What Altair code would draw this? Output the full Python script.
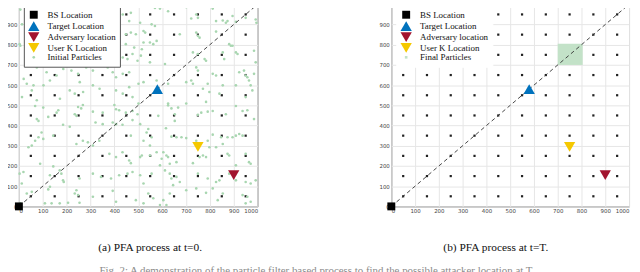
import altair as alt
import pandas as pd

tick_values = [0, 100, 200, 300, 400, 500, 600, 700, 800, 900, 1000]
grid_centers = [50, 150, 250, 350, 450, 550, 650, 750, 850, 950]

marker_names = ["BS Location", "Target Location", "Adversary location", "User K Location"]
marker_x = [0, 580, 900, 750]
marker_y = [0, 580, 155, 295]

diag_x = [0, 1000]
diag_y = [0, 1000]

# initial particles
particle_x = [
    68, 102, 165, 158, 248, 261, 268, 234, 241, 310, 351, 400, 407, 420, 448, 476, 497, 75, 82, 123,
    185, 213, 321, 351, 393, 407, 434, 476, 95, 82, 102, 144, 40, 54, 68, 241, 268, 289, 310, 337,
    469, 379, 407, 462, 469, 434, 89, 144, 19, 3, 171, 178, 185, 188, 130, 254, 310, 344, 386, 420,
    455, 476, 12, 33, 54, 123, 130, 241, 248, 234, 310, 393, 490, 109, 137, 171, 206, 254, 407, 6,
    625, 639, 667, 653, 653, 584, 750, 764, 791, 812, 867, 909, 937, 957, 985, 508, 542, 535, 522, 556,
    549, 616, 639, 660, 681, 701, 743, 812, 847, 874, 895, 909, 923, 937, 791, 798, 826, 854, 508, 515,
    549, 577, 605, 618, 625, 598, 591, 632, 660, 729, 757, 771, 784, 874, 881, 950, 964, 971, 909, 508,
    522, 556, 612, 632, 639, 660, 674, 750, 791, 826, 840, 881, 909, 950, 971, 992, 646, 701, 743, 784,
    812, 833, 854, 937, 957, 971, 542, 563, 605, 632, 522, 591, 618, 950,
    529, 570, 584, 591, 625, 701, 736, 743, 750, 722, 812, 812, 826, 854, 867, 874, 895, 909, 950, 992,
    995, 508, 522, 529, 556, 570, 522, 549, 563, 577, 674, 743, 750, 757, 826, 881, 888, 895, 515, 549,
    511, 612, 729, 750, 778, 784, 854, 860, 909, 916, 985, 992, 743, 750, 812, 826, 923, 943, 950, 957,
    964, 985, 501, 522, 577, 625, 701, 722, 729, 791, 854, 909, 971, 978, 771, 798, 840, 950, 625, 701,
    784, 501,
    6, 13, 3, 6, 435, 469, 462, 448, 469, 490, 448, 483, 435, 455, 476, 497, 379, 407, 324, 358,
    61, 75, 116, 130, 158, 186, 220, 241, 248, 255, 282, 310, 372, 393, 407, 435, 462, 20, 33, 61,
    103, 54, 13, 213, 234, 269, 310, 338, 407, 435, 462, 476, 75, 172,
]
particle_y = [
    497, 489, 476, 464, 492, 485, 502, 456, 448, 469, 464, 502, 481, 476, 464, 472, 456, 432, 423, 443,
    404, 394, 415, 407, 415, 407, 404, 427, 366, 342, 334, 350, 293, 301, 325, 309, 325, 317, 301, 325,
    350, 260, 244, 227, 214, 268, 211, 198, 170, 162, 178, 162, 129, 121, 154, 138, 162, 146, 138, 154,
    162, 170, 113, 64, 72, 84, 97, 80, 56, 64, 48, 77, 31, 15, 15, 15, 18, 18, 23, 15,
    500, 485, 489, 456, 423, 448, 453, 464, 469, 472, 456, 497, 472, 476, 432, 407, 383, 366, 325, 342,
    301, 387, 345, 342, 342, 338, 325, 355, 342, 342, 342, 350, 358, 350, 325, 293, 293, 309, 244, 252,
    252, 268, 268, 252, 244, 236, 203, 211, 219, 214, 244, 252, 244, 260, 252, 260, 219, 211, 203, 154,
    113, 162, 178, 162, 138, 146, 121, 162, 138, 121, 129, 162, 129, 121, 113, 129, 105, 80, 89, 67,
    89, 31, 64, 56, 48, 23, 64, 40, 31, 64, 15, 7, 7, 15,
    990, 982, 990, 979, 966, 986, 995, 950, 933, 930, 990, 979, 917, 920, 909, 917, 942, 914, 933, 925,
    909, 909, 868, 860, 901, 893, 811, 811, 803, 819, 852, 860, 844, 835, 865, 803, 795, 795, 778, 713,
    746, 705, 762, 754, 729, 721, 762, 729, 762, 754, 770, 713, 688, 672, 656, 648, 664, 672, 648, 639,
    623, 656, 607, 615, 623, 607, 615, 623, 607, 607, 599, 599, 599, 574, 582, 566, 558, 541, 509, 509,
    517, 509,
    974, 901, 803, 795, 950, 958, 917, 852, 860, 852, 803, 786, 737, 729, 754, 721, 995, 992, 992, 990,
    697, 688, 664, 623, 648, 680, 672, 697, 656, 615, 688, 672, 688, 664, 639, 656, 664, 631, 607, 599,
    599, 574, 541, 574, 558, 566, 599, 582, 574, 558, 590, 541, 525, 533,
]

cluster_x = [700]
cluster_x2 = [805]
cluster_y = [700]
cluster_y2 = [805]

caption_a = "(a) PFA process at t=0."
caption_b = "(b) PFA process at t=T."
figure_caption = ("Fig. 2: A demonstration of the particle filter based process to find the "
                  "possible attacker location at T.")

COLORS = ["#000000", "#0072BD", "#A2142F", "#F5C800"]
SHAPES = ["square", "triangle-up", "triangle-down", "triangle-down"]
SIZES = [64, 130, 130, 130]

grid_df = pd.DataFrame([(gx, gy) for gx in grid_centers for gy in grid_centers], columns=["x", "y"])
marker_df = pd.DataFrame({"x": marker_x, "y": marker_y, "series": marker_names})
diag_df = pd.DataFrame({"x": diag_x, "y": diag_y})
part_df = pd.DataFrame({"x": particle_x, "y": particle_y, "series": "Initial Particles"})
cluster_df = pd.DataFrame({"x": cluster_x, "x2": cluster_x2, "y": cluster_y, "y2": cluster_y2})


def panel(width, particles_name, particle_color, particle_shape, caption, title_x, legend_stroke):
    domain = marker_names + [particles_name]
    xs = alt.Scale(domain=[0, 1000], nice=False)
    ys = alt.Scale(domain=[0, 1000], nice=False)
    xax = alt.Axis(values=tick_values, format="d", title=caption, titleX=title_x)
    yax = alt.Axis(values=tick_values, format="d", title=None)
    leg = alt.Legend(
        title=None, orient="none", legendX=5, legendY=2,
        fillColor="white", strokeColor=legend_stroke, padding=4,
        labelFont="Liberation Serif", labelFontSize=9, labelColor="#111",
        rowPadding=0, labelOffset=8, symbolStrokeWidth=0, symbolOpacity=1,
    )
    color = alt.Color("series:N", scale=alt.Scale(domain=domain, range=COLORS + [particle_color]), legend=leg)
    shape = alt.Shape("series:N", scale=alt.Scale(domain=domain, range=SHAPES + [particle_shape]), legend=leg)
    size = alt.Size("series:N", scale=alt.Scale(type="ordinal", domain=domain, range=SIZES + [7]), legend=leg)

    base_x = alt.X("x:Q", scale=xs, axis=xax)
    base_y = alt.Y("y:Q", scale=ys, axis=yax)

    dots = alt.Chart(grid_df).mark_square(size=5, color="#222", opacity=1).encode(x=base_x, y=base_y)
    layers = [dots]
    if particles_name == "Initial Particles":
        parts = alt.Chart(part_df).mark_point(filled=True, opacity=1, strokeWidth=0).encode(
            x=base_x, y=base_y, color=color, shape=shape, size=size)
        layers.append(parts)
    else:
        clus = alt.Chart(cluster_df).mark_rect(color=particle_color, opacity=1).encode(
            x=base_x, x2="x2:Q", y=base_y, y2="y2:Q")
        layers.append(clus)
    line = alt.Chart(diag_df).mark_line(color="#333", strokeDash=[4, 3], strokeWidth=0.9).encode(x=base_x, y=base_y)
    layers.append(line)
    marks = alt.Chart(marker_df).mark_point(filled=True, opacity=1, strokeWidth=0).encode(
        x=base_x, y=base_y, color=color, shape=shape, size=size)
    layers.append(marks)
    return alt.layer(*layers).properties(width=width, height=204)


left = panel(241, "Initial Particles", "#a8d6b0", "circle", caption_a, 132, "#555")
right = panel(240, "Final Particles", "#c3e2c8", "square", caption_b, 105, "white")

chart = alt.hconcat(left, right, spacing=135, bounds="flush").properties(
    padding={"left": -6, "top": -8, "right": 0, "bottom": 0},
    title=alt.TitleParams(figure_caption, orient="bottom", anchor="middle", fontSize=11,
                          font="Liberation Serif", fontWeight="normal", color="#8a8a8a", offset=12),
).configure_view(stroke="#555", strokeWidth=1).configure_axis(
    grid=True, gridColor="#e6e6e6", gridWidth=1, domain=False, ticks=False,
    labelFont="DejaVu Sans", labelFontSize=5.5, labelColor="#444", labelPadding=2,
    titleFont="Liberation Serif", titleFontSize=11.5, titleFontWeight="normal", titleColor="#111",
    titlePadding=28,
).resolve_scale(color="independent", shape="independent", size="independent")

chart.save("out.html", embed_options={"renderer": "svg", "actions": False})
